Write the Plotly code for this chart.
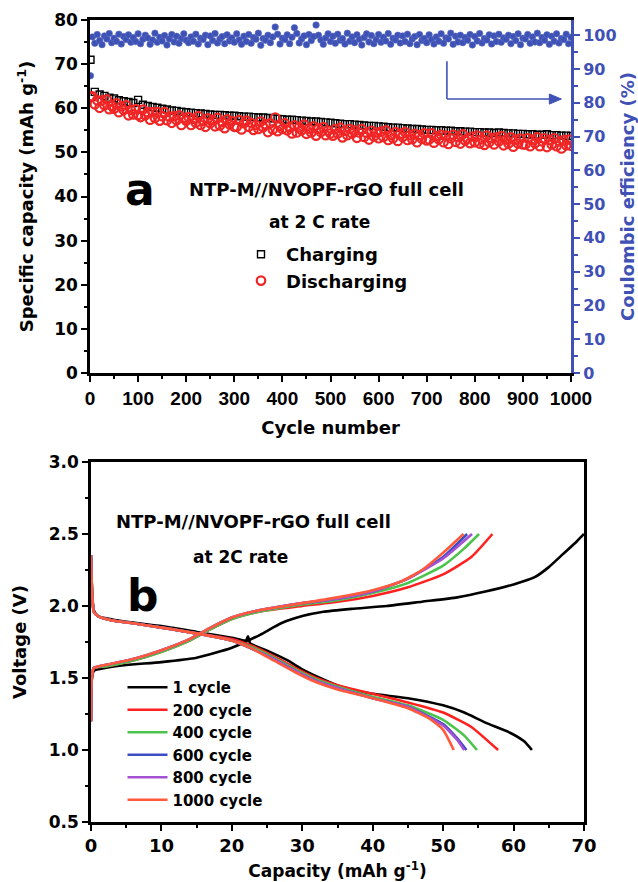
import plotly.graph_objects as go

W, H = 638, 882
DJ = "DejaVu Sans, Verdana, sans-serif"
LIB = "Liberation Sans, Arial, sans-serif"
BLUE = "#3f51b5"

# ---------------- Panel a data ----------------
cyc_chg = [1] + list(range(10, 1001, 10))
chg_cap = [71.0,
    63.7, 63.1, 62.8, 62.4, 62.2, 61.8, 61.6, 61.4, 61.2, 61.9,
    60.8, 60.5, 60.3, 60.1, 59.9, 59.7, 59.5, 59.4, 59.2, 59.1,
    59.0, 58.9, 58.8, 58.7, 58.6, 58.5, 58.5, 58.4, 58.3, 58.3,
    58.2, 58.1, 58.1, 58.0, 57.9, 57.9, 57.8, 57.7, 57.6, 57.5,
    57.4, 57.4, 57.3, 57.2, 57.1, 57.0, 57.0, 56.9, 56.8, 56.7,
    56.6, 56.5, 56.4, 56.4, 56.3, 56.2, 56.1, 56.0, 56.0, 55.9,
    55.8, 55.7, 55.6, 55.6, 55.5, 55.4, 55.3, 55.3, 55.2, 55.1,
    55.1, 55.0, 55.0, 54.9, 54.9, 54.8, 54.8, 54.7, 54.7, 54.6,
    54.6, 54.5, 54.5, 54.4, 54.5, 54.4, 54.3, 54.3, 54.2, 54.2,
    54.1, 54.1, 54.0, 54.0, 54.1, 53.9, 53.9, 53.8, 53.8, 53.7]

cyc_dis = [1] + list(range(5, 1001, 5))
dis_cap = [62.6,
    62.7, 60.9, 61.8, 60.1, 61.8, 60.7, 62.0, 59.8, 60.6, 59.9, 61.1, 59.1, 60.4, 59.6, 60.7, 58.4, 59.6, 58.6, 59.8, 58.5,
    58.0, 59.7, 58.4, 59.1, 57.4, 59.1, 57.8, 59.1, 57.2, 58.2, 59.1, 57.3, 58.1, 56.7, 58.2, 57.3, 58.4, 56.2, 57.8, 57.2,
    58.0, 56.2, 57.6, 56.7, 58.2, 56.2, 57.1, 55.8, 57.7, 56.6, 57.3, 55.9, 57.8, 56.1, 56.9, 55.5, 57.5, 56.4, 57.1, 55.8,
    55.8, 57.3, 55.2, 56.6, 57.2, 55.8, 56.7, 55.1, 56.2, 55.3, 57.0, 55.7, 56.4, 54.6, 56.6, 55.2, 57.9, 54.8, 56.0, 55.3,
    56.6, 55.0, 55.7, 54.3, 56.1, 54.5, 55.7, 55.0, 56.3, 54.2, 55.4, 54.5, 55.9, 53.8, 55.4, 54.6, 55.7, 53.9, 54.9, 54.3,
    53.8, 55.3, 54.3, 55.6, 53.4, 54.9, 53.9, 55.3, 54.3, 55.0, 53.3, 54.5, 55.3, 53.5, 54.4, 52.9, 54.9, 53.6, 54.5, 53.2,
    54.7, 53.5, 55.0, 52.8, 54.0, 53.2, 54.6, 52.6, 54.2, 53.5, 54.6, 52.8, 53.9, 53.0, 54.2, 52.3, 53.9, 53.1, 54.3, 52.7,
    52.9, 54.3, 52.2, 53.7, 53.0, 54.0, 52.3, 53.8, 51.9, 53.2, 54.0, 52.4, 53.5, 52.0, 54.1, 52.7, 53.2, 52.1, 53.6, 52.3,
    53.8, 52.0, 53.0, 51.7, 53.8, 52.3, 53.2, 51.8, 53.4, 52.5, 53.7, 51.6, 52.9, 52.0, 53.4, 51.3, 52.9, 52.0, 53.1, 51.8,
    51.8, 53.2, 51.4, 52.9, 52.1, 53.4, 51.4, 52.5, 53.2, 51.2, 52.8, 51.8, 53.2, 51.4, 52.5, 50.9, 52.8, 51.6, 52.9, 51.5]

cyc_ce = [1] + list(range(5, 1001, 5))
ce = [88.0,
    99.5, 97.6, 100.2, 98.4, 97.2, 99.8, 98.9, 100.5, 97.8, 99.1, 98.2, 100.3, 97.4, 99.6, 98.7, 100.1, 97.9, 99.3, 98.1, 100.4,
    97.5, 98.8, 100.0, 99.2, 97.3, 98.6, 100.6, 97.9, 99.4, 98.3, 99.9, 97.1, 98.9, 100.2, 98.0, 99.7, 97.6, 99.0, 100.4, 98.5,
    97.8, 99.5, 98.2, 100.3, 97.4, 99.1, 98.7, 100.0, 97.2, 99.8, 98.4, 100.5, 97.7, 98.9, 99.6, 97.5, 100.1, 98.3, 99.2, 97.9,
    100.4, 98.6, 97.3, 99.7, 98.1, 100.2, 97.6, 99.3, 98.8, 100.6, 97.0, 99.0, 98.5, 100.0, 97.8, 99.5, 102.4, 100.3, 97.4, 99.1,
    98.7, 100.1, 97.5, 99.4, 102.2, 100.5, 97.7, 98.9, 99.8, 97.2, 100.2, 98.4, 99.6, 103.0, 100.0, 98.6, 97.3, 99.2, 100.4, 98.1,
    99.7, 97.6, 100.3, 98.5, 99.0, 97.4, 100.6, 98.2, 99.5, 97.8, 100.1, 98.8, 97.1, 99.3, 100.4, 98.0, 99.9, 97.5, 98.7, 100.2,
    97.9, 99.4, 98.3, 100.5, 97.3, 99.1, 98.6, 100.0, 97.7, 99.8, 98.1, 100.3, 97.5, 98.9, 99.6, 97.2, 100.2, 98.4, 99.0, 97.8,
    100.1, 98.7, 97.4, 99.5, 98.2, 100.4, 97.6, 99.2, 98.9, 100.6, 97.3, 99.7, 98.0, 100.0, 97.8, 99.3, 98.5, 100.2, 97.1, 99.6,
    98.3, 100.5, 97.7, 99.0, 98.6, 100.1, 97.4, 99.8, 98.1, 100.3, 97.9, 99.2, 98.8, 100.0, 97.5, 99.6, 98.4, 100.4, 97.2, 99.1,
    98.9, 100.2, 97.6, 99.5, 98.0, 100.6, 97.8, 99.3, 98.5, 100.1, 97.3, 99.7, 98.2, 100.4, 97.7, 99.0, 98.7, 100.3, 97.5, 99.4]

# ---------------- Panel b data ----------------
cycle_names = ["1 cycle", "200 cycle", "400 cycle", "600 cycle", "800 cycle", "1000 cycle"]
cycle_colors = ["#000000", "#ff2020", "#4cc44c", "#3b4cc0", "#a552d2", "#ff5a3c"]

c1_chg_cap = [0, 0.1, 0.4, 2, 5, 10, 15, 20, 24, 27, 30, 33, 37, 42, 47, 52, 56, 60, 63, 65, 67, 69, 70]
c1_chg_v = [1.20, 1.48, 1.55, 1.57, 1.59, 1.61, 1.64, 1.71, 1.80, 1.88, 1.93, 1.96, 1.98, 2.00, 2.03, 2.06, 2.10, 2.15, 2.20, 2.27, 2.36, 2.45, 2.50]
c1_dis_cap = [0, 0.15, 0.4, 1, 5, 10, 15, 20, 22, 22.3, 22.6, 25, 28, 30, 33, 36, 40, 45, 50, 53, 56, 59.5, 61.5, 62.6]
c1_dis_v = [2.35, 2.10, 1.97, 1.93, 1.89, 1.86, 1.82, 1.78, 1.76, 1.79, 1.74, 1.69, 1.62, 1.56, 1.49, 1.43, 1.39, 1.36, 1.31, 1.26, 1.19, 1.12, 1.06, 1.00]

c200_chg_cap = [0, 0.1, 0.4, 2, 5, 8, 11, 14, 17, 20, 22, 25, 30, 35, 40, 45, 50, 54, 57]
c200_chg_v = [1.20, 1.50, 1.57, 1.58, 1.61, 1.65, 1.70, 1.76, 1.84, 1.91, 1.94, 1.97, 2.00, 2.03, 2.07, 2.13, 2.22, 2.34, 2.50]
c200_dis_cap = [0, 0.15, 0.4, 1, 3, 6, 10, 15, 20, 23, 26, 29, 32, 35, 40, 45, 50, 54, 57.8]
c200_dis_v = [2.35, 2.10, 1.96, 1.93, 1.90, 1.88, 1.85, 1.81, 1.77, 1.72, 1.65, 1.57, 1.50, 1.45, 1.39, 1.33, 1.26, 1.16, 1.00]

c400_chg_cap = [0, 0.1, 0.4, 2, 5, 8, 11, 14, 17, 20, 22, 25, 30, 35, 40, 45, 50, 53, 55.1]
c400_chg_v = [1.20, 1.50, 1.57, 1.58, 1.61, 1.65, 1.70, 1.76, 1.84, 1.91, 1.94, 1.97, 2.01, 2.04, 2.09, 2.16, 2.28, 2.40, 2.50]
c400_dis_cap = [0, 0.15, 0.4, 1, 3, 6, 10, 15, 20, 23, 26, 29, 32, 35, 40, 45, 50, 53, 54.8]
c400_dis_v = [2.35, 2.10, 1.96, 1.93, 1.90, 1.88, 1.85, 1.81, 1.76, 1.71, 1.64, 1.56, 1.49, 1.44, 1.37, 1.31, 1.21, 1.10, 1.00]

c600_chg_cap = [0, 0.1, 0.4, 2, 5, 8, 11, 14, 17, 20, 22, 25, 30, 35, 40, 45, 50, 53.4]
c600_chg_v = [1.20, 1.50, 1.57, 1.59, 1.62, 1.66, 1.71, 1.77, 1.85, 1.92, 1.95, 1.98, 2.02, 2.05, 2.10, 2.19, 2.34, 2.50]
c600_dis_cap = [0, 0.15, 0.4, 1, 3, 6, 10, 15, 20, 23, 26, 29, 32, 35, 40, 45, 50, 52, 53.3]
c600_dis_v = [2.35, 2.10, 1.96, 1.93, 1.90, 1.88, 1.85, 1.81, 1.76, 1.70, 1.63, 1.55, 1.48, 1.43, 1.36, 1.30, 1.18, 1.08, 1.00]

c800_chg_cap = [0, 0.1, 0.4, 2, 5, 8, 11, 14, 17, 20, 22, 25, 30, 35, 40, 45, 50, 54.1]
c800_chg_v = [1.20, 1.50, 1.57, 1.59, 1.62, 1.66, 1.71, 1.77, 1.85, 1.92, 1.95, 1.98, 2.02, 2.05, 2.10, 2.19, 2.33, 2.50]
c800_dis_cap = [0, 0.15, 0.4, 1, 3, 6, 10, 15, 20, 23, 26, 29, 32, 35, 40, 45, 50, 52, 53.0]
c800_dis_v = [2.35, 2.10, 1.96, 1.93, 1.90, 1.88, 1.85, 1.81, 1.76, 1.70, 1.63, 1.55, 1.48, 1.43, 1.36, 1.30, 1.17, 1.07, 1.00]

c1000_chg_cap = [0, 0.1, 0.4, 2, 5, 8, 11, 14, 17, 20, 22, 25, 30, 35, 40, 44, 47, 50, 52.9]
c1000_chg_v = [1.20, 1.50, 1.57, 1.59, 1.62, 1.66, 1.71, 1.77, 1.85, 1.92, 1.95, 1.98, 2.02, 2.06, 2.11, 2.17, 2.25, 2.37, 2.50]
c1000_dis_cap = [0, 0.15, 0.4, 1, 3, 6, 10, 15, 20, 23, 26, 29, 32, 35, 40, 45, 48, 50, 51.5]
c1000_dis_v = [2.35, 2.10, 1.96, 1.93, 1.90, 1.88, 1.85, 1.81, 1.76, 1.70, 1.62, 1.54, 1.47, 1.42, 1.36, 1.29, 1.22, 1.14, 1.00]

curves = [
    (c1_chg_cap, c1_chg_v, c1_dis_cap, c1_dis_v),
    (c200_chg_cap, c200_chg_v, c200_dis_cap, c200_dis_v),
    (c400_chg_cap, c400_chg_v, c400_dis_cap, c400_dis_v),
    (c600_chg_cap, c600_chg_v, c600_dis_cap, c600_dis_v),
    (c800_chg_cap, c800_chg_v, c800_dis_cap, c800_dis_v),
    (c1000_chg_cap, c1000_chg_v, c1000_dis_cap, c1000_dis_v),
]


def px(x):
    return x / W


def py(y):
    return 1 - y / H


def bold(family, size, color="black"):
    return dict(family=family, size=size, color=color, weight="bold")


fig = go.Figure()

# Panel a traces
fig.add_trace(go.Scatter(
    x=cyc_chg, y=chg_cap, mode="markers", name="Charging",
    marker=dict(symbol="square-open", size=7, color="black", line=dict(width=1.4)),
    xaxis="x", yaxis="y", legend="legend"))
fig.add_trace(go.Scatter(
    x=cyc_dis, y=dis_cap, mode="markers", name="Discharging",
    marker=dict(symbol="circle-open", size=8.5, color="#f02525", line=dict(width=2.2)),
    xaxis="x", yaxis="y", legend="legend"))
fig.add_trace(go.Scatter(
    x=cyc_ce, y=ce, mode="markers", name="Coulombic efficiency", showlegend=False,
    marker=dict(symbol="circle", size=6.5, color="#3d52b4", line=dict(width=0.6, color="#5a6cc4")),
    xaxis="x", yaxis="y2"))

# Panel b traces
for name, col, (cc, cv, dc, dv) in zip(cycle_names, cycle_colors, curves):
    fig.add_trace(go.Scatter(
        x=cc + [None] + dc, y=cv + [None] + dv, mode="lines", name=name,
        line=dict(color=col, width=2.6, shape="spline", smoothing=0.5),
        connectgaps=False, xaxis="x2", yaxis="y3", legend="legend2"))

common = dict(showgrid=False, zeroline=False, showline=True, linewidth=2.5,
              linecolor="black", ticks="outside", ticklen=6, tickwidth=2,
              tickcolor="black", automargin=False)
minor_k = dict(ticks="outside", ticklen=3.5, tickwidth=2, tickcolor="black")

fig.update_layout(
    width=W, height=H, margin=dict(l=0, r=0, t=0, b=0),
    paper_bgcolor="white", plot_bgcolor="white", showlegend=True,
    xaxis=dict(domain=[px(90), px(571)], anchor="y", range=[0, 1000], dtick=100,
               mirror=True, tickfont=bold(LIB, 19),
               minor=dict(dtick=50, **minor_k),
               title=dict(text="Cycle number", font=bold(DJ, 18), standoff=14), **common),
    yaxis=dict(domain=[py(373), py(20)], anchor="x", range=[0, 80], dtick=10,
               tickfont=bold(DJ, 17),
               minor=dict(dtick=5, **minor_k),
               title=dict(text="Specific capacity (mAh g<sup>-1</sup>)", font=bold(DJ, 18), standoff=16),
               **common),
    yaxis2=dict(overlaying="y", side="right", anchor="x", range=[0, 104.5], dtick=10,
                showgrid=False, zeroline=False, showline=True, linewidth=3, linecolor=BLUE,
                ticks="outside", ticklen=6, tickwidth=2, tickcolor=BLUE, automargin=False,
                tickfont=bold(DJ, 16, BLUE),
                minor=dict(dtick=5, ticks="outside", ticklen=3.5, tickwidth=2, tickcolor=BLUE),
                title=dict(text="Coulombic efficiency (%)", font=bold(DJ, 18, BLUE), standoff=10)),
    xaxis2=dict(domain=[px(91), px(584)], anchor="y3", range=[0, 70], dtick=10,
                mirror=True, tickfont=bold(DJ, 18),
                minor=dict(dtick=5, **minor_k),
                title=dict(text="Capacity (mAh g<sup>-1</sup>)", font=bold(DJ, 17), standoff=10),
                **common),
    yaxis3=dict(domain=[py(822), py(462)], anchor="x2", range=[0.5, 3.0], dtick=0.5,
                tickformat=".1f", mirror=True, tickfont=bold(DJ, 17),
                minor=dict(dtick=0.25, **minor_k),
                title=dict(text="Voltage (V)", font=bold(DJ, 18), standoff=18),
                **common),
    legend=dict(x=px(236), y=py(236), xanchor="left", yanchor="top",
                bgcolor="rgba(0,0,0,0)", borderwidth=0, itemwidth=40,
                font=bold(DJ, 18)),
    legend2=dict(x=px(122.5), y=py(671), xanchor="left", yanchor="top",
                 bgcolor="rgba(0,0,0,0)", borderwidth=0, itemwidth=40,
                 font=bold(DJ, 15)),
)

annots = [
    dict(text="a", x=px(140), y=py(190), font=bold(DJ, 44)),
    dict(text="NTP-M//NVOPF-rGO full cell", x=px(326), y=py(190), font=bold(DJ, 18)),
    dict(text="at 2 C rate", x=px(320), y=py(222), font=bold(DJ, 17)),
    dict(text="NTP-M//NVOPF-rGO full cell", x=px(253), y=py(521), font=bold(DJ, 18)),
    dict(text="at 2C rate", x=px(240), y=py(557), font=bold(DJ, 17)),
    dict(text="b", x=px(143), y=py(595), font=bold(DJ, 44)),
]
for a in annots:
    fig.add_annotation(xref="paper", yref="paper", showarrow=False, xanchor="center", yanchor="middle", **a)

# blue arrow in panel a pointing to the right axis
fig.add_shape(type="line", xref="x", yref="y2", x0=742, x1=742, y0=92.3, y1=81.1,
              line=dict(color=BLUE, width=1.6))
fig.add_shape(type="line", xref="x", yref="y2", x0=742, x1=962, y0=81.1, y1=81.1,
              line=dict(color=BLUE, width=1.6))
fig.add_shape(type="path", xref="x", yref="y2", path="M 955,82.6 L 980,81.1 L 955,79.6 Z",
              fillcolor=BLUE, line=dict(color=BLUE, width=1))

fig.write_html("out.html")
